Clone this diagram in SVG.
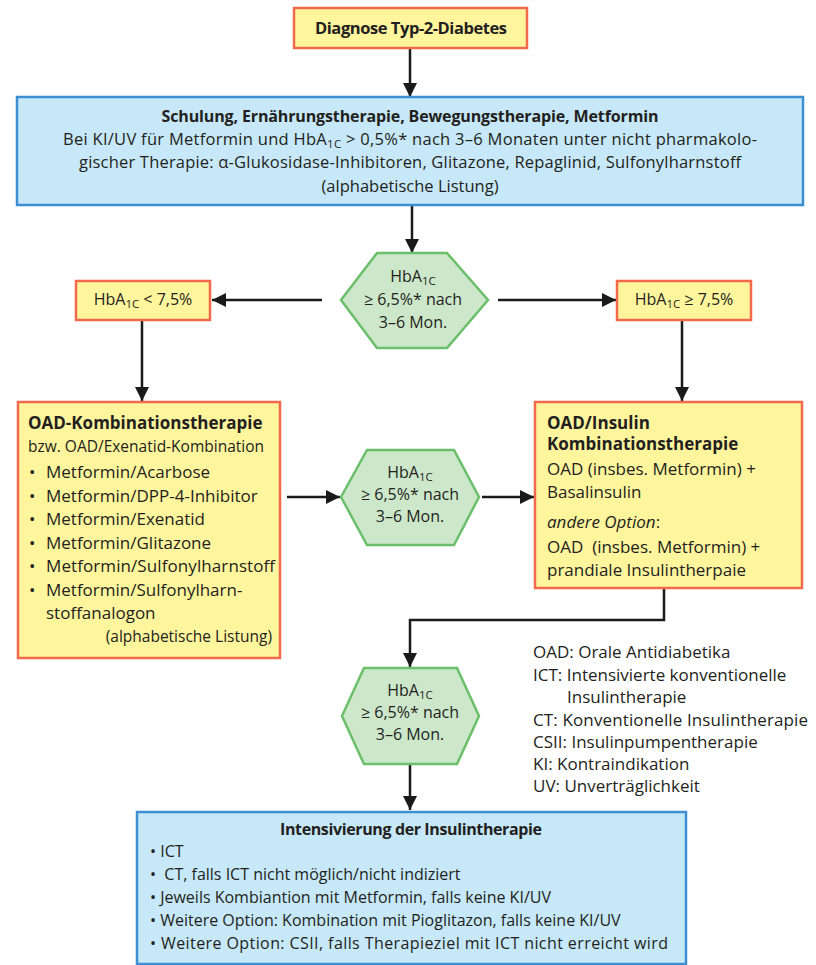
<svg xmlns="http://www.w3.org/2000/svg" width="816" height="965" viewBox="0 0 816 965">
<style>
text{font-family:"Open Sans","Liberation Sans",sans-serif;fill:#231f20;font-size:16px}
.b{font-weight:bold}
.c{text-anchor:middle}
.big{font-size:17px}
.sm{font-size:15.5px}
.sub{font-size:11.5px}
.y{fill:#fff59d;stroke:#f26a4b;stroke-width:2.5}
.bl{fill:#c6e8f8;stroke:#3d8ed3;stroke-width:2.5}
.g{fill:#cde7cb;stroke:#6cbf6a;stroke-width:2.5}
.con path{fill:none;stroke:#1a1a1a;stroke-width:2.5}
</style>
<defs>
<marker id="ah" viewBox="0 0 14 14" refX="14" refY="7" markerWidth="14" markerHeight="14" markerUnits="userSpaceOnUse" orient="auto"><path d="M0,0 L14,7 L0,14 z" fill="#1a1a1a"/></marker>
</defs>
<g class="con">
<path d="M410,48 V97" marker-end="url(#ah)"/>
<path d="M412,205 V253" marker-end="url(#ah)"/>
<path d="M322,300 H212" marker-end="url(#ah)"/>
<path d="M498,300 H616" marker-end="url(#ah)"/>
<path d="M142,320 V401" marker-end="url(#ah)"/>
<path d="M682,320 V401" marker-end="url(#ah)"/>
<path d="M287,497 H340" marker-end="url(#ah)"/>
<path d="M482,497 H534" marker-end="url(#ah)"/>
<path d="M664,588 V620 H410 V667" marker-end="url(#ah)"/>
<path d="M410,764 V810" marker-end="url(#ah)"/>
</g>
<g id="diagnose">
<rect class="y" x="294" y="8" width="233" height="40"/>
<text class="b c" x="411" y="34" style="font-size:16.5px" textLength="192">Diagnose Typ-2-Diabetes</text>
</g>
<g id="schulung">
<rect class="bl" x="17" y="97" width="786" height="108"/>
<text class="b c" x="410" y="122" textLength="497">Schulung, Ernährungstherapie, Bewegungstherapie, Metformin</text>
<text class="c" x="410" y="145" textLength="694" style="font-size:16.5px">Bei KI/UV für Metformin und HbA<tspan class="sub" dy="3">1C</tspan><tspan dy="-3"> &gt; 0,5%* nach 3–6 Monaten unter nicht pharmakolo-</tspan></text>
<text class="c" x="410" y="168" textLength="662" style="font-size:16.5px">gischer Therapie: α-Glukosidase-Inhibitoren, Glitazone, Repaglinid, Sulfonylharnstoff</text>
<text class="c" x="410" y="192" style="font-size:16.5px">(alphabetische Listung)</text>
</g>
<g id="hex1">
<polygon class="g" points="341,300 377,253 447,253 488,300 447,348 377,348"/>
<text class="c" x="413" y="282">HbA<tspan class="sub" dy="3">1C</tspan></text>
<text class="c" x="413" y="305">≥ 6,5%* nach</text>
<text class="c" x="413" y="328">3–6 Mon.</text>
</g>
<g id="lt75">
<rect class="y" x="76" y="281" width="134" height="39"/>
<text class="c" x="143" y="305">HbA<tspan class="sub" dy="3">1C</tspan><tspan dy="-3"> &lt; 7,5%</tspan></text>
</g>
<g id="ge75">
<rect class="y" x="617" y="281" width="134" height="39"/>
<text class="c" x="684" y="305">HbA<tspan class="sub" dy="3">1C</tspan><tspan dy="-3"> ≥ 7,5%</tspan></text>
</g>
<g id="oadkombi">
<rect class="y" x="18" y="402" width="262" height="256"/>
<text class="b big" x="28" y="429">OAD-Kombinationstherapie</text>
<text class="sm" x="28" y="452">bzw. OAD/Exenatid-Kombination</text>
<text class="big" x="29" y="478">•</text><text class="big" x="46" y="478">Metformin/Acarbose</text>
<text class="big" x="29" y="502">•</text><text class="big" x="46" y="502">Metformin/DPP-4-Inhibitor</text>
<text class="big" x="29" y="525">•</text><text class="big" x="46" y="525">Metformin/Exenatid</text>
<text class="big" x="29" y="549">•</text><text class="big" x="46" y="549">Metformin/Glitazone</text>
<text class="big" x="29" y="572">•</text><text class="big" x="46" y="572" textLength="229">Metformin/Sulfonylharnstoff</text>
<text class="big" x="29" y="596">•</text><text class="big" x="46" y="596">Metformin/Sulfonylharn-</text>
<text class="big" x="46" y="619">stoffanalogon</text>
<text class="sm" x="272" y="642" style="text-anchor:end">(alphabetische Listung)</text>
</g>
<g id="hex2">
<polygon class="g" points="341,497 367,450 454,450 479,497 454,545 367,545"/>
<text class="c" x="410" y="478">HbA<tspan class="sub" dy="3">1C</tspan></text>
<text class="c" x="410" y="500">≥ 6,5%* nach</text>
<text class="c" x="410" y="522">3–6 Mon.</text>
</g>
<g id="oadinsulin">
<rect class="y" x="535" y="402" width="267" height="186"/>
<text class="b big" x="547" y="429">OAD/Insulin</text>
<text class="b big" x="547" y="450">Kombinationstherapie</text>
<text class="big" x="547" y="475">OAD (insbes. Metformin) +</text>
<text class="big" x="547" y="498">Basalinsulin</text>
<text class="big" x="547" y="528"><tspan font-style="italic">andere Option</tspan>:</text>
<text class="big" x="547" y="553" xml:space="preserve">OAD  (insbes. Metformin) +</text>
<text class="big" x="547" y="576">prandiale Insulintherpaie</text>
</g>
<g id="hex3">
<polygon class="g" points="342,716 364,668 457,668 479,716 457,764 364,764"/>
<text class="c" x="410" y="696">HbA<tspan class="sub" dy="3">1C</tspan></text>
<text class="c" x="410" y="718">≥ 6,5%* nach</text>
<text class="c" x="410" y="740">3–6 Mon.</text>
</g>
<g id="legende">
<text class="big" x="533" y="658">OAD: Orale Antidiabetika</text>
<text class="big" x="533" y="681">ICT: Intensivierte konventionelle</text>
<text class="big" x="567" y="703">Insulintherapie</text>
<text class="big" x="533" y="726" textLength="275">CT: Konventionelle Insulintherapie</text>
<text class="big" x="533" y="748">CSII: Insulinpumpentherapie</text>
<text class="big" x="533" y="770">KI: Kontraindikation</text>
<text class="big" x="533" y="792">UV: Unverträglichkeit</text>
</g>
<g id="intensivierung">
<rect class="bl" x="137" y="812" width="549" height="152"/>
<text class="b c" x="411" y="835" textLength="262">Intensivierung der Insulintherapie</text>
<text x="150" y="857">• ICT</text>
<text x="150" y="880" xml:space="preserve">•  CT, falls ICT nicht möglich/nicht indiziert</text>
<text x="150" y="903">• Jeweils Kombiantion mit Metformin, falls keine KI/UV</text>
<text x="150" y="926">• Weitere Option: Kombination mit Pioglitazon, falls keine KI/UV</text>
<text x="150" y="949" textLength="518">• Weitere Option: CSII, falls Therapieziel mit ICT nicht erreicht wird</text>
</g>
</svg>
